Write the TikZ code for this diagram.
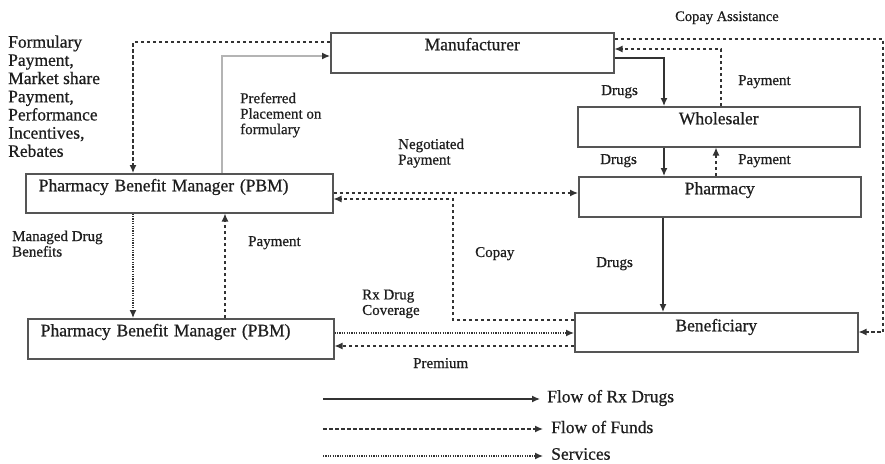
\documentclass[tikz,border=0pt]{standalone}
\usepackage{fontspec}
\setmainfont[FakeBold=0.7]{Liberation Serif}
\usetikzlibrary{arrows.meta}

\definecolor{ink}{HTML}{1E1E1E}
\definecolor{edge}{HTML}{555555}
\definecolor{wire}{HTML}{333333}
\definecolor{pale}{HTML}{B4B4B4}

\tikzset{
  tip/.style={-{Latex[length=8pt,width=7pt,color=wire]}},
  party/.style={draw=edge, line width=1.5pt, inner ysep=0pt, anchor=north west,
    text=ink, font=\fontsize{17.5}{21}\selectfont},
  drug/.style={draw=wire, line width=1.3pt, tip},
  funds/.style={draw=wire, line width=1.3pt, dash pattern=on 3.5pt off 2.5pt, tip},
  service/.style={draw=wire, line width=1.3pt, dash pattern=on 1.2pt off 1.2pt, tip},
  pref/.style={draw=pale, line width=1.3pt, tip},
  tag/.style={inner sep=0pt, text=ink, font=\fontsize{15}{15.5}\selectfont, align=left},
  bigtag/.style={inner sep=0pt, text=ink, font=\fontsize{17.5}{18.2}\selectfont, align=left},
}

\begin{document}
\begin{tikzpicture}[x=1pt, y=-1pt]
\useasboundingbox (0,0) rectangle (885,463);

% parties
\node[party, minimum width=283pt, inner xsep=0pt, text height=17.5pt, text depth=22.5pt]
  (mfr) at (330,32) {Manufacturer};
\node[party, minimum width=282pt, inner xsep=0pt, text height=17.5pt, text depth=22.5pt]
  (whl) at (577,106) {Wholesaler};
\node[party, minimum width=282pt, inner xsep=0pt, text height=17.5pt, text depth=22.5pt]
  (pha) at (578,176) {Pharmacy};
\node[party, minimum width=283pt, inner xsep=0pt, text height=18.5pt, text depth=20.5pt]
  (ben) at (574,312) {Beneficiary};
\node[party, text width=281pt, inner xsep=13pt, align=left, text height=17.5pt, text depth=21.5pt]
  (pbm1) at (25,173) {Pharmacy Benefit Manager (PBM)};
\node[party, text width=280pt, inner xsep=13pt, align=left, text height=17.5pt, text depth=22.5pt]
  (pbm2) at (27,318) {Pharmacy Benefit Manager (PBM)};

% connectors between parties
\draw[funds]   (mfr.west |- 0,42) -| (pbm1.north -| 133,0);
\draw[pref]    (pbm1.north -| 222,0) |- (mfr.west |- 0,56);
\draw[drug]    (mfr.east |- 0,58) -| (whl.north -| 664,0);
\draw[funds]   (whl.north -| 721,0) |- (mfr.east |- 0,49);
\draw[funds]   (mfr.east |- 0,39) -- (883,39) |- (ben.east |- 0,332);
\draw[drug]    (whl.south -| 664,0) -- (pha.north -| 664,0);
\draw[funds]   (pha.north -| 716,0) -- (whl.south -| 716,0);
\draw[funds]   (pbm1.east |- 0,193) -- (pha.west |- 0,193);
\draw[funds]   (ben.west |- 0,320) -| (453,199) -- (pbm1.east |- 0,199);
\draw[drug]    (pha.south -| 663,0) -- (ben.north -| 663,0);
\draw[service] (pbm1.south -| 133,0) -- (pbm2.north -| 133,0);
\draw[funds]   (pbm2.north -| 225,0) -- (pbm1.south -| 225,0);
\draw[service] (pbm2.east |- 0,333) -- (ben.west |- 0,333);
\draw[funds]   (ben.west |- 0,346) -- (pbm2.east |- 0,346);

% labels
\node[bigtag, anchor=north west] (rebates) at (8,35.3)
  {Formulary\\Payment,\\Market share\\Payment,\\Performance\\Incentives,\\Rebates};
\node[tag, anchor=north west] (preferred) at (240,92.4) {Preferred\\Placement on\\formulary};
\node[tag, anchor=north west] (negotiated) at (398,138.4) {Negotiated\\Payment};
\node[tag, anchor=north west] (managed) at (12,230.4) {Managed Drug\\Benefits};
\node[tag, anchor=north west] (coverage) at (362,289.4) {Rx Drug\\Coverage};
\node[tag, anchor=base west, font=\fontsize{14.5}{15}\selectfont] (assist) at (675,21) {Copay Assistance};
\node[tag, anchor=base west] (drugs1) at (601,95) {Drugs};
\node[tag, anchor=base west] (pay1) at (738,85) {Payment};
\node[tag, anchor=base west] (drugs2) at (600,164) {Drugs};
\node[tag, anchor=base west] (pay2) at (738,164) {Payment};
\node[tag, anchor=base west] (pay3) at (248,246) {Payment};
\node[tag, anchor=base west] (premium) at (413,368) {Premium};
\node[tag, anchor=base west] (copay) at (475,257) {Copay};
\node[tag, anchor=base west] (drugs3) at (596,267) {Drugs};

% legend
\node[bigtag, anchor=west] (legdrug) at (547,398) {Flow of Rx Drugs};
\node[bigtag, anchor=west] (legfunds) at (551,427) {Flow of Funds};
\node[bigtag, anchor=west] (legserv) at (551,454) {Services};
\coordinate (legdrugstart) at (323,399);
\coordinate (legfundsstart) at (323,429);
\coordinate (legservstart) at (323,456);
\draw[drug, shorten >=7pt] (legdrugstart) -- (legdrugstart -| legdrug.west);
\draw[funds, shorten >=8pt] (legfundsstart) -- (legfundsstart -| legfunds.west);
\draw[service, shorten >=8pt] (legservstart) -- (legservstart -| legserv.west);
\end{tikzpicture}
\end{document}
